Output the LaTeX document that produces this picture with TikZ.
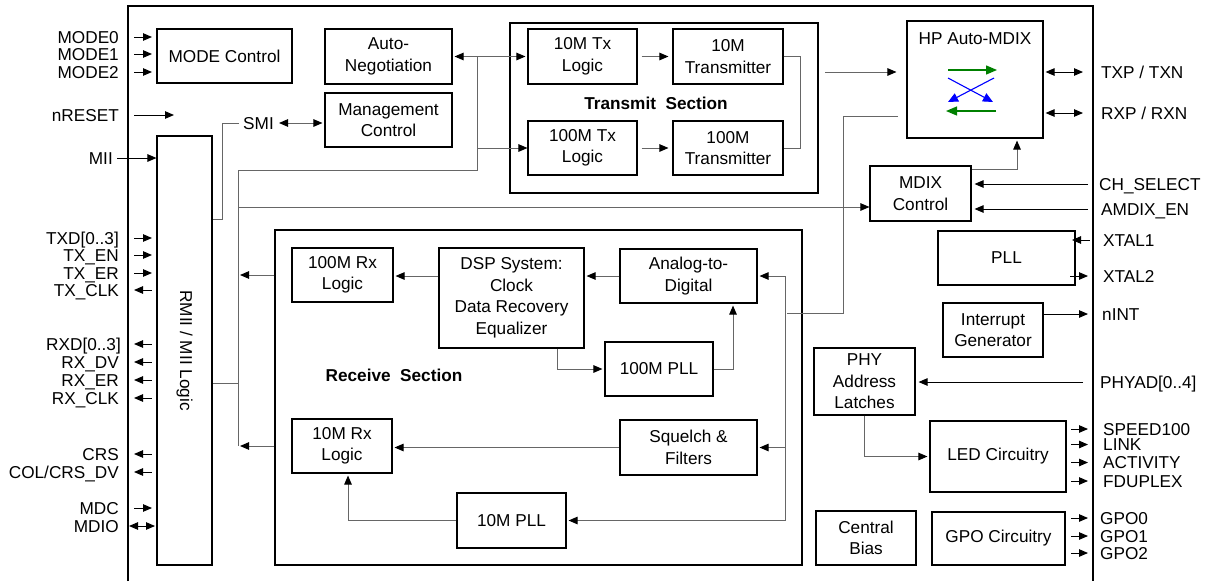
\documentclass[tikz,border=0pt]{standalone}
\usepackage{fontspec}
\setmainfont{Liberation Sans}
\colorlet{WireGray}{black!60}
\definecolor{SwapGreen}{RGB}{0,128,0}
\definecolor{SwapBlue}{RGB}{0,0,255}
\usetikzlibrary{calc, arrows.meta}

\begin{document}
\begin{tikzpicture}[x=1pt, y=-1pt,
    every node/.style={font=\fontsize{17.2}{21.5}\selectfont, inner sep=0pt},
    block/.style 2 args={draw, line width=1.1pt, align=center, minimum width=#1pt, minimum height=#2pt},
    wire/.style={draw=WireGray, line width=1pt, shorten >=2pt},
    pin/.style={line width=1pt},
    pinl/.style={anchor=east, text height=12.3pt, text depth=0pt},
    pinr/.style={anchor=west, text height=12.3pt, text depth=0pt},
    secttl/.style={font=\fontsize{17.2}{21.5}\selectfont\bfseries},
    >={Triangle[length=9pt, width=7.5pt, color=black]}]

\useasboundingbox (0,0) rectangle (1206,581);

% chip outline
\draw[line width=1.1pt] (128,581) -- (128,6) -- (1093,6) -- (1093,581);

% blocks
\node[block={135}{54}] (modectl) at (224.5,56) {MODE Control};
\node[block={127}{55}] (autoneg) at (388.5,56.5) {Auto-\\Negotiation};
\node[block={127}{54}] (mgmt) at (388.5,120) {Management\\Control};
\node[block={55}{429}] (rmii) at (184.5,350.5) {};
\node[rotate=-90] at (rmii) {RMII / MII Logic};
\node[pinl] (smi) at (274,123) {SMI};

\node[block={308}{170}] (txsec) at (664,108) {};
\node[block={109}{55}] (tx10) at (582.5,56.5) {10M Tx\\Logic};
\node[block={110}{55}] (txm10) at (728,56.5) {10M\\Transmitter};
\node[block={109}{54}] (tx100) at (582.5,148) {100M Tx\\Logic};
\node[block={110}{54}] (txm100) at (728,148) {100M\\Transmitter};
\node[secttl] at (656,103) {Transmit\ \ Section};

\node[block={136}{117}] (mdix) at (975,79.5) {};
\node at ([yshift=-18pt]mdix.north) {HP Auto-MDIX};
\node[block={101}{55}] (mdixctl) at (920.5,193.5) {MDIX\\Control};

\node[block={527}{335}] (rxsec) at (538.5,397.5) {};
\node[block={101}{54}] (rx100) at (342.5,275) {100M Rx\\Logic};
\node[block={145}{100}] (dsp) at (511.5,298) {DSP System:\\Clock\\Data Recovery\\Equalizer};
\node[block={137}{54}] (adc) at (688.5,276) {Analog-to-\\Digital};
\node[block={108}{54}] (pll100) at (659,369) {100M PLL};
\node[block={100}{54}] (rx10) at (342,446) {10M Rx\\Logic};
\node[block={137}{55}] (squelch) at (688.5,447.5) {Squelch \&\\Filters};
\node[block={109}{55}] (pll10) at (511.5,520.5) {10M PLL};
\node[secttl] at (394,375) {Receive\ \ Section};

\node[block={137}{54}] (pll) at (1006.5,258) {PLL};
\node[block={100}{54}] (intgen) at (993,330) {Interrupt\\Generator};
\node[block={101}{67}] (phyad) at (864.5,381.5) {PHY\\Address\\Latches};
\node[block={136}{71}] (led) at (998,456.5) {LED Circuitry};
\node[block={100}{54}] (bias) at (866,538) {Central\\Bias};
\node[block={133}{53}] (gpo) at (998.5,538.5) {GPO Circuitry};

% left pins
\node[pinl] (mode0) at (119,37) {MODE0};
\node[pinl] (mode1) at (119,54) {MODE1};
\node[pinl] (mode2) at (119,72) {MODE2};
\node[pinl] (nrst) at (119,115) {nRESET};
\node[pinl] (mii) at (113,158) {MII};
\node[pinl] (txd) at (119,238) {TXD[0..3]};
\node[pinl] (txen) at (119,255) {TX\_EN};
\node[pinl] (txer) at (119,273) {TX\_ER};
\node[pinl] (txclk) at (119,290) {TX\_CLK};
\node[pinl] (rxd) at (121,344) {RXD[0..3]};
\node[pinl] (rxdv) at (119,362) {RX\_DV};
\node[pinl] (rxer) at (119,380) {RX\_ER};
\node[pinl] (rxclk) at (119,398) {RX\_CLK};
\node[pinl] (crs) at (119,454) {CRS};
\node[pinl] (col) at (119,472) {COL/CRS\_DV};
\node[pinl] (mdc) at (119,508) {MDC};
\node[pinl] (mdio) at (119,526) {MDIO};

\draw[pin,->] ([xshift=15pt]mode0.east) -- ++(18,0);
\draw[pin,->] ([xshift=15pt]mode1.east) -- ++(18,0);
\draw[pin,->] ([xshift=15pt]mode2.east) -- ++(18,0);
\draw[pin,->] ([xshift=15pt]nrst.east) -- ++(40,0);
\draw[pin,->] ([xshift=4pt]mii.east) -- (mii.east -| rmii.west);
\draw[pin,->] ([xshift=15pt]txd.east) -- ++(18,0);
\draw[pin,->] ([xshift=15pt]txen.east) -- ++(18,0);
\draw[pin,->] ([xshift=15pt]txer.east) -- ++(18,0);
\draw[pin,<-] ([xshift=15pt]txclk.east) -- ++(18,0);
\draw[pin,<-] ([xshift=13pt]rxd.east) -- ++(18,0);
\draw[pin,<-] ([xshift=15pt]rxdv.east) -- ++(18,0);
\draw[pin,<-] ([xshift=15pt]rxer.east) -- ++(18,0);
\draw[pin,<-] ([xshift=15pt]rxclk.east) -- ++(18,0);
\draw[pin,<-] ([xshift=15pt]crs.east) -- ++(18,0);
\draw[pin,<-] ([xshift=15pt]col.east) -- ++(18,0);
\draw[pin,->] ([xshift=15pt]mdc.east) -- ++(18,0);
\draw[pin,<->] ([xshift=10pt]mdio.east) -- ++(26,0);

% right pins
\node[pinr] (txp) at (1101,72) {TXP / TXN};
\node[pinr] (rxp) at (1101,113) {RXP / RXN};
\node[pinr] (chsel) at (1099,184) {CH\_SELECT};
\node[pinr] (amdix) at (1101,209) {AMDIX\_EN};
\node[pinr] (xt1) at (1103,240) {XTAL1};
\node[pinr] (xt2) at (1103,276) {XTAL2};
\node[pinr] (nint) at (1102,314) {nINT};
\node[pinr] (phy) at (1100,382) {PHYAD[0..4]};
\node[pinr] (spd) at (1103,429) {SPEED100};
\node[pinr] (lnk) at (1103,444.5) {LINK};
\node[pinr] (act) at (1103,462.5) {ACTIVITY};
\node[pinr] (fdx) at (1103,481) {FDUPLEX};
\node[pinr] (gpo0) at (1100,518) {GPO0};
\node[pinr] (gpo1) at (1100,536) {GPO1};
\node[pinr] (gpo2) at (1100,553) {GPO2};

\draw[pin,<->,shorten <=2pt] (mdix.east |- txp.west) -- ([xshift=-18pt]txp.west);
\draw[pin,<->,shorten <=2pt] (mdix.east |- rxp.west) -- ([xshift=-18pt]rxp.west);
\draw[pin,->,shorten >=3pt] ([xshift=-11pt]chsel.west) -- (chsel.west -| mdixctl.east);
\draw[pin,->,shorten >=3pt] ([xshift=-13pt]amdix.west) -- (amdix.west -| mdixctl.east);
\draw[pin,<-] ([xshift=-31pt]xt1.west) -- ++(18,0);
\draw[pin,->] ([xshift=-33pt]xt2.west) -- ++(18,0);
\draw[pin,->] (intgen.east |- nint.west) -- ([xshift=-14pt]nint.west);
\draw[pin,->,shorten >=3pt] ([xshift=-17pt]phy.west) -- (phy.west -| phyad.east);
\draw[pin,->] ([xshift=-32pt]spd.west) -- ++(17,0);
\draw[pin,->] ([xshift=-32pt]lnk.west) -- ++(17,0);
\draw[pin,->] ([xshift=-32pt]act.west) -- ++(17,0);
\draw[pin,->] ([xshift=-32pt]fdx.west) -- ++(17,0);
\draw[pin,->] ([xshift=-29pt]gpo0.west) -- ++(17,0);
\draw[pin,->] ([xshift=-29pt]gpo1.west) -- ++(17,0);
\draw[pin,->] ([xshift=-29pt]gpo2.west) -- ++(17,0);

% internal buses
\coordinate (txbus) at (477,57);
\coordinate (mainbus) at (238,170);
\coordinate (mdixbus) at (238,207);
\coordinate (rmiibus) at (238,383);
\coordinate (smibend) at (222,219);
\coordinate (txout) at (825,72);
\coordinate (mdixrx) at (898,116);
\coordinate (rxbend) at (843,313);
\coordinate (rxin) at (785,276);

\draw[wire,<->,shorten <=2pt] (autoneg.east) -- (tx10.west);
\draw[wire,shorten >=0pt] (txbus) -- (txbus |- mainbus) -- (mainbus) -- (mainbus |- rx10);
\draw[wire,->,shorten >=0pt] (txbus |- tx100) -- (tx100.west);
\draw[wire,->,shorten >=0pt] (mdixbus) -- (mdixbus -| mdixctl.west);
\draw[wire,shorten >=0pt] (rmiibus) -- (rmiibus -| rmii.east);
\draw[wire,shorten >=0pt] ([xshift=-4pt]smi.west) -| (smibend) -- (smibend -| rmii.east);
\draw[wire,<->,shorten <=5pt] (smi.east) -- (smi.east -| mgmt.west);

\draw[wire,->,shorten <=4pt,shorten >=4pt] (tx10) -- (txm10);
\draw[wire,->,shorten <=4pt,shorten >=4pt] (tx100) -- (txm100);
\draw[wire,shorten >=0pt] (txm10.east) -- ++(17,0) |- (txm100.east);
\draw[wire,->,shorten >=10pt] (txout) -- (txout -| mdix.west);

\draw[wire] (mdixrx) -| (rxbend) -- (rxbend -| rxin);
\draw[wire,->] ([yshift=-4pt]mdixctl.north east) -| ([xshift=42pt]mdix.south);

\draw[wire,shorten >=0pt] (rxin) -- (rxin |- pll10);
\draw[wire,->] (rxin) -- (adc.east);
\draw[wire,->] (rxin |- squelch) -- (squelch.east);
\draw[wire,->] (rxin |- pll10) -- (pll10.east);
\draw[wire,->] (adc.west) -- (adc.west -| dsp.east);
\draw[wire,->] (dsp.west |- adc) -- (adc -| rx100.east);
\draw[wire,->] ([xshift=45.5pt]dsp.south) |- (pll100.west);
\draw[wire,->] (pll100.east) -| ([xshift=44.5pt]adc.south);
\draw[wire,->] (squelch.west) -- (squelch.west -| rx10.east);
\draw[wire,->] (pll10.west) -| ([xshift=6pt]rx10.south);
\draw[wire,->] (rxsec.west |- rx100) -- (mainbus |- rx100);
\draw[wire,->] (rxsec.west |- rx10) -- (mainbus |- rx10);

\draw[wire,->] ([xshift=-0.5pt]phyad.south) |- (led.west);

% crossover symbol
\draw[SwapGreen, line width=1.3pt, -{Triangle[length=11pt, width=9pt]}] (948,70) -- (997,70);
\draw[SwapBlue, line width=1.1pt, -{Triangle[length=10pt, width=9pt]}] (948,78) -- (993,102);
\draw[SwapBlue, line width=1.1pt, -{Triangle[length=10pt, width=9pt]}] (994,78) -- (948,102);
\draw[SwapGreen, line width=1.3pt, -{Triangle[length=11pt, width=9pt]}] (996,111) -- (946,111);

\end{tikzpicture}
\end{document}
